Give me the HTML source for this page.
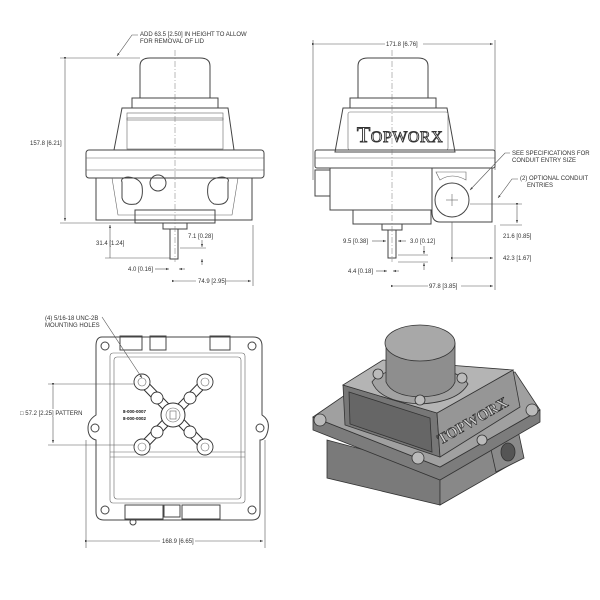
<!DOCTYPE html>
<html><head><meta charset="utf-8"><style>
html,body{margin:0;padding:0;background:#fff;}
svg{display:block;}
text{font-family:"Liberation Sans",sans-serif;font-size:6px;fill:#333;}
.o{fill:none;stroke:#444;stroke-width:1;}
.t{fill:none;stroke:#666;stroke-width:0.6;}
.d{fill:none;stroke:#555;stroke-width:0.6;}
.c{fill:none;stroke:#777;stroke-width:0.5;stroke-dasharray:6 2 1 2;}
</style></head><body>
<svg width="600" height="600" viewBox="0 0 600 600" xmlns="http://www.w3.org/2000/svg">
<defs>
<marker id="a" markerWidth="6" markerHeight="6" refX="5" refY="3" orient="auto"><path d="M0,1.2 L5,3 L0,4.8z" fill="#444"/></marker>
</defs>

<!-- ===== TOP LEFT VIEW ===== -->
<g>
<path class="o" d="M140,98 V66 Q140,58 150,58 H200 Q210,58 210,66 V98"/>
<rect class="o" x="132" y="98" width="86" height="10"/>
<path class="o" d="M122,108 H228 L234,150 H114 Z"/>
<rect class="t" x="127" y="113" width="96" height="36"/>
<rect class="t" x="127" y="118" width="96" height="2"/>
<rect class="o" x="86" y="150" width="178" height="28" rx="3"/>
<line class="t" x1="86" y1="158" x2="264" y2="158"/>
<line class="t" x1="86" y1="170" x2="264" y2="170"/>
<path class="o" d="M96,178 V220 H252 V178"/>
<path class="t" d="M112,178 L118,215 H232 L238,178"/>
<rect class="o" x="135" y="210" width="80" height="13"/>
<path class="o" d="M122,182 Q120,178 128,177 Q140,178 142,186 Q144,200 136,204 Q124,206 122,198Z"/>
<path class="o" d="M228,182 Q230,178 222,177 Q210,178 208,186 Q206,200 214,204 Q226,206 228,198Z"/>
<circle class="o" cx="158" cy="183" r="8"/>
<rect class="o" x="163" y="223" width="24" height="6"/>
<rect class="o" x="170" y="229" width="8" height="30"/>
<line class="c" x1="175" y1="50" x2="175" y2="262"/>
<line class="d" x1="60" y1="58" x2="140" y2="58"/>
<line class="d" x1="60" y1="223" x2="135" y2="223"/>
<line class="d" x1="65" y1="60" x2="65" y2="221" marker-start="url(#a)" marker-end="url(#a)"/>
<text x="30" y="145">157.8 [6.21]</text>
<path class="d" d="M138,35 H132 L117,56" marker-end="url(#a)"/>
<text x="140" y="36">ADD 63.5 [2.50] IN HEIGHT TO ALLOW</text>
<text x="140" y="43">FOR REMOVAL OF LID</text>
<line class="d" x1="110" y1="225" x2="110" y2="258"/>
<line class="d" x1="105" y1="258" x2="170" y2="258"/>
<line class="d" x1="110" y1="228" x2="110" y2="225" marker-end="url(#a)"/>
<text x="96" y="245">31.4 [1.24]</text>
<text x="188" y="238">7.1 [0.28]</text>
<line class="d" x1="180" y1="248" x2="206" y2="248"/>
<line class="d" x1="202" y1="240" x2="202" y2="247" marker-end="url(#a)"/>
<line class="d" x1="202" y1="265" x2="202" y2="259" marker-end="url(#a)"/>
<text x="128" y="271">4.0 [0.16]</text>
<line class="d" x1="155" y1="269" x2="169" y2="269" marker-end="url(#a)"/>
<line class="d" x1="185" y1="269" x2="179" y2="269" marker-end="url(#a)"/>
<line class="d" x1="253" y1="225" x2="253" y2="286"/>
<line class="d" x1="175" y1="281" x2="251" y2="281" marker-start="url(#a)" marker-end="url(#a)"/>
<rect x="196" y="277" width="30" height="8" fill="#fff"/>
<text x="198" y="283">74.9 [2.95]</text>
</g>

<!-- ===== TOP RIGHT VIEW ===== -->
<g>
<line class="d" x1="313" y1="40" x2="313" y2="180"/>
<line class="d" x1="495" y1="40" x2="495" y2="170"/>
<line class="d" x1="315" y1="44" x2="493" y2="44" marker-start="url(#a)" marker-end="url(#a)"/>
<rect x="385" y="40" width="38" height="8" fill="#fff"/>
<text x="386" y="46">171.8 [6.76]</text>
<path class="o" d="M358,98 V66 Q358,58 368,58 H418 Q428,58 428,66 V98"/>
<rect class="o" x="350" y="98" width="86" height="10"/>
<path class="o" d="M343,108 H447 L455,152 H335 Z"/>
<rect class="t" x="348" y="112" width="100" height="38" rx="2"/>
<text x="400" y="142" text-anchor="middle" style="font-family:'Liberation Serif',serif;font-size:22px;fill:#fff;stroke:#333;stroke-width:0.9;letter-spacing:0.5px">T<tspan font-size="16">OPWORX</tspan></text>
<rect class="o" x="315" y="150" width="180" height="18" rx="2"/>
<line class="t" x1="315" y1="158" x2="495" y2="158"/>
<path class="o" d="M330,168 V210 H432"/>
<rect class="o" x="315" y="170" width="15" height="26"/>
<rect class="o" x="353" y="210" width="78" height="14"/>
<path class="o" d="M432,168 H492 V222 H440 Q432,222 432,212Z"/>
<path class="t" d="M436,172 H466 V180 Q452,172 440,180Z"/>
<circle class="o" cx="452" cy="200" r="17"/>
<line class="t" x1="446" y1="200" x2="458" y2="200"/>
<line class="t" x1="452" y1="194" x2="452" y2="206"/>
<rect class="o" x="382" y="224" width="20" height="6"/>
<rect class="o" x="388" y="230" width="8" height="28"/>
<line class="c" x1="392" y1="50" x2="392" y2="262"/>
<path class="d" d="M510,153 H505 L470,190" marker-end="url(#a)"/>
<text x="512" y="155">SEE SPECIFICATIONS FOR</text>
<text x="512" y="162">CONDUIT ENTRY SIZE</text>
<path class="d" d="M518,179 H512 L498,198" marker-end="url(#a)"/>
<text x="520" y="180">(2) OPTIONAL CONDUIT</text>
<text x="527" y="187">ENTRIES</text>
<line class="d" x1="470" y1="204" x2="522" y2="204"/>
<line class="d" x1="500" y1="225" x2="522" y2="225"/>
<line class="d" x1="517" y1="206" x2="517" y2="223" marker-start="url(#a)" marker-end="url(#a)"/>
<text x="503" y="238">21.6 [0.85]</text>
<line class="d" x1="452" y1="222" x2="452" y2="262"/>
<line class="d" x1="454" y1="258" x2="493" y2="258" marker-start="url(#a)" marker-end="url(#a)"/>
<text x="503" y="260">42.3 [1.67]</text>
<text x="343" y="243">9.5 [0.38]</text>
<line class="d" x1="372" y1="241" x2="386" y2="241" marker-end="url(#a)"/>
<text x="410" y="243">3.0 [0.12]</text>
<line class="d" x1="406" y1="241" x2="398" y2="241" marker-end="url(#a)"/>
<line class="d" x1="398" y1="255" x2="428" y2="255"/>
<line class="d" x1="398" y1="262" x2="428" y2="262"/>
<line class="d" x1="424" y1="246" x2="424" y2="254" marker-end="url(#a)"/>
<line class="d" x1="424" y1="270" x2="424" y2="263" marker-end="url(#a)"/>
<text x="348" y="273">4.4 [0.18]</text>
<line class="d" x1="376" y1="271" x2="387" y2="271" marker-end="url(#a)"/>
<line class="d" x1="399" y1="271" x2="393" y2="271" marker-end="url(#a)"/>
<line class="d" x1="495" y1="225" x2="495" y2="290"/>
<line class="d" x1="394" y1="286" x2="493" y2="286" marker-start="url(#a)" marker-end="url(#a)"/>
<rect x="428" y="282" width="33" height="8" fill="#fff"/>
<text x="429" y="288">97.8 [3.85]</text>
</g>

<!-- ===== BOTTOM LEFT VIEW ===== -->
<g>
<path class="o" d="M102,337 H253 Q262,337 262,346 V415 Q270,420 268,430 Q266,440 260,440 V512 Q260,520 252,520 H104 Q96,520 96,512 V440 Q88,438 88,428 Q88,420 96,415 V346 Q96,337 102,337Z"/>
<rect class="t" x="110" y="353" width="135" height="150" rx="3"/>
<rect class="t" x="114" y="357" width="127" height="142" rx="3"/>
<rect class="o" x="120" y="336" width="22" height="14"/>
<rect class="o" x="150" y="336" width="16" height="14"/>
<rect class="o" x="210" y="336" width="20" height="14"/>
<line class="t" x1="110" y1="452" x2="245" y2="452"/>
<line class="t" x1="110" y1="457" x2="245" y2="457"/>
<rect class="o" x="125" y="505" width="38" height="14"/>
<rect class="o" x="182" y="505" width="38" height="14"/>
<rect class="o" x="164" y="505" width="16" height="12"/>
<circle class="o" cx="133" cy="522" r="3"/>
<circle class="o" cx="105" cy="346" r="4"/><circle class="o" cx="252" cy="346" r="4"/>
<circle class="o" cx="105" cy="510" r="4"/><circle class="o" cx="252" cy="510" r="4"/>
<circle class="o" cx="95" cy="428" r="4"/><circle class="o" cx="260" cy="428" r="4"/>
<g stroke="#333" stroke-width="9" stroke-linecap="round"><line x1="142" y1="382" x2="205" y2="447"/><line x1="205" y1="382" x2="142" y2="447"/></g>
<g stroke="#fff" stroke-width="7" stroke-linecap="round"><line x1="142" y1="382" x2="205" y2="447"/><line x1="205" y1="382" x2="142" y2="447"/></g>
<circle cx="173" cy="415" r="12" fill="#fff" stroke="#333"/>
<circle class="t" cx="173" cy="415" r="7"/>
<rect class="t" x="170" y="411" width="6" height="8"/>
<g fill="#fff" stroke="#333" stroke-width="0.9">
<circle cx="142" cy="382" r="8"/><circle cx="205" cy="382" r="8"/><circle cx="142" cy="447" r="8"/><circle cx="205" cy="447" r="8"/>
<circle cx="157" cy="398" r="6"/><circle cx="190" cy="398" r="6"/><circle cx="157" cy="432" r="6"/><circle cx="190" cy="432" r="6"/>
</g>
<g class="t"><circle cx="142" cy="382" r="4"/><circle cx="205" cy="382" r="4"/><circle cx="142" cy="447" r="4"/><circle cx="205" cy="447" r="4"/></g>
<text x="123" y="413" style="font-size:4.5px;font-weight:bold;fill:#111">8-000-0007</text>
<text x="123" y="420" style="font-size:4.5px;font-weight:bold;fill:#111">8-000-0002</text>
<text x="45" y="320">(4) 5/16-18 UNC-2B</text>
<text x="45" y="327">MOUNTING HOLES</text>
<path class="d" d="M102,317 L142,378" marker-end="url(#a)"/>
<line class="d" x1="48" y1="384" x2="135" y2="384"/>
<line class="d" x1="48" y1="445" x2="135" y2="445"/>
<line class="d" x1="53" y1="386" x2="53" y2="443" marker-start="url(#a)" marker-end="url(#a)"/>
<rect x="18" y="409" width="70" height="8" fill="#fff"/>
<text x="20" y="415">□ 57.2 [2.25] PATTERN</text>
<line class="d" x1="86" y1="440" x2="86" y2="548"/>
<line class="d" x1="265" y1="440" x2="265" y2="548"/>
<line class="d" x1="88" y1="541" x2="263" y2="541" marker-start="url(#a)" marker-end="url(#a)"/>
<rect x="160" y="537" width="35" height="8" fill="#fff"/>
<text x="162" y="543">168.9 [6.65]</text>
</g>

<!-- ===== ISO VIEW ===== -->
<g stroke="#333" stroke-width="0.8">
<!-- lower body -->
<path d="M327,440 L327,478 L440,505 L440,470Z" fill="#7a7a7a"/>
<path d="M440,470 L515,430 L515,462 L440,505Z" fill="#888"/>
<!-- conduit boss -->
<path d="M490,445 L518,430 L524,458 L496,472Z" fill="#8a8a8a"/>
<ellipse cx="508" cy="452" rx="7" ry="9" fill="#555"/>
<!-- flange -->
<path d="M313,417 L440,467 L540,410 L540,422 L440,480 L313,430Z" fill="#7c7c7c"/>
<path d="M313,417 L345,395 L515,372 L540,410 L440,467Z" fill="#a0a0a0"/>
<!-- upper body faces -->
<path d="M343,385 L437,413 L440,457 L345,425Z" fill="#777"/>
<path d="M437,413 L513,370 L520,407 L440,457Z" fill="#969696"/>
<path d="M343,385 L383,360 L513,370 L437,413Z" fill="#b4b4b4"/>
<path d="M349,392 L430,418 L432,452 L350,424Z" fill="#666"/>
<!-- cap -->
<path d="M372,382 Q382,368 420,368 Q458,368 468,384 Q458,402 420,404 Q380,402 372,382Z" fill="#a2a2a2"/>
<path d="M386,343 L386,382 Q392,396 420,397 Q450,396 455,382 L455,343Z" fill="#8e8e8e"/>
<ellipse cx="420" cy="343" rx="35" ry="18" fill="#a8a8a8"/>
<g fill="#bbb"><circle cx="378" cy="374" r="5"/><circle cx="462" cy="378" r="5"/><circle cx="420" cy="400" r="5"/>
<circle cx="320" cy="420" r="6"/><circle cx="532" cy="410" r="6"/><circle cx="418" cy="458" r="6"/><circle cx="482" cy="440" r="5"/></g>
</g>
<text x="475" y="425" text-anchor="middle" transform="rotate(-30 475 425)" style="font-family:'Liberation Serif',serif;font-size:15px;font-weight:bold;fill:#ccc;stroke:#222;stroke-width:0.6">TOPWORX</text>
</svg>
</body></html>
